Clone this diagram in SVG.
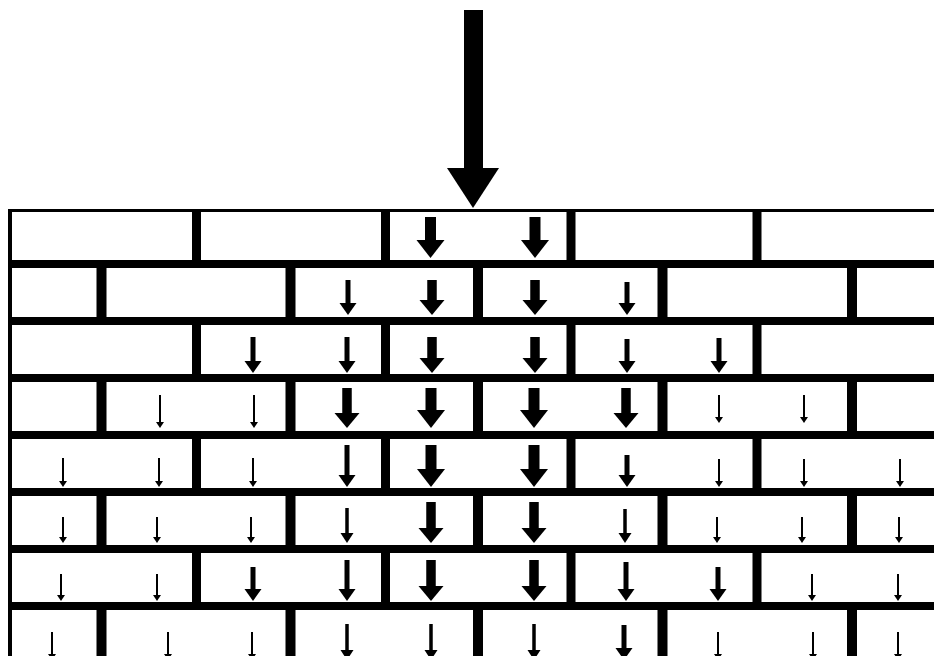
<svg xmlns="http://www.w3.org/2000/svg" width="934" height="656" viewBox="0 0 934 656">
<style>
.mortar rect{fill:#000}
.ar line{fill:none;stroke:#000}
.xl{stroke-width:11;marker-end:url(#hXL)}
.l{stroke-width:9.5;marker-end:url(#hL)}
.m{stroke-width:5;marker-end:url(#hM)}
.s{stroke-width:3.5;marker-end:url(#hS)}
.xs{stroke-width:2;marker-end:url(#hXS)}
</style>
<defs>
<marker id="hXL" markerUnits="userSpaceOnUse" markerWidth="28" markerHeight="18" refX="14" refY="1" orient="0" overflow="visible"><path d="M0,0H28L14,18Z"/></marker>
<marker id="hL" markerUnits="userSpaceOnUse" markerWidth="25" markerHeight="15" refX="12.5" refY="1" orient="0" overflow="visible"><path d="M0,0H25L12.5,15Z"/></marker>
<marker id="hM" markerUnits="userSpaceOnUse" markerWidth="17" markerHeight="12" refX="8.5" refY="1" orient="0" overflow="visible"><path d="M0,0H17L8.5,12Z"/></marker>
<marker id="hS" markerUnits="userSpaceOnUse" markerWidth="13" markerHeight="10" refX="6.5" refY="1" orient="0" overflow="visible"><path d="M0,0H13L6.5,10Z"/></marker>
<marker id="hXS" markerUnits="userSpaceOnUse" markerWidth="8" markerHeight="6" refX="4" refY="1" orient="0" overflow="visible"><path d="M0,0H8L4,6Z"/></marker>
</defs>
<rect width="934" height="656" fill="#fff"/>
<g id="load">
<rect x="464" y="10" width="19" height="160" fill="#000"/>
<polygon points="447,168 499,168 473,208" fill="#000"/>
</g>
<g id="wall" class="mortar">
<rect x="8" y="209" width="926" height="3"/>
<rect x="8" y="209" width="4" height="447"/>
<rect x="8" y="260" width="926" height="8"/>
<rect x="8" y="317" width="926" height="8"/>
<rect x="8" y="374" width="926" height="8"/>
<rect x="8" y="431" width="926" height="8"/>
<rect x="8" y="488" width="926" height="8"/>
<rect x="8" y="545" width="926" height="8"/>
<rect x="8" y="602" width="926" height="8"/>
<rect x="192" y="209" width="9" height="52"/><rect x="381" y="209" width="9" height="52"/><rect x="566.5" y="209" width="9" height="52"/><rect x="752.5" y="209" width="9" height="52"/>
<rect x="192" y="324" width="9" height="51"/><rect x="381" y="324" width="9" height="51"/><rect x="566.5" y="324" width="9" height="51"/><rect x="752.5" y="324" width="9" height="51"/>
<rect x="192" y="438" width="9" height="51"/><rect x="381" y="438" width="9" height="51"/><rect x="566.5" y="438" width="9" height="51"/><rect x="752.5" y="438" width="9" height="51"/>
<rect x="192" y="552" width="9" height="51"/><rect x="381" y="552" width="9" height="51"/><rect x="566.5" y="552" width="9" height="51"/><rect x="752.5" y="552" width="9" height="51"/>
<rect x="96.5" y="267" width="10" height="51"/><rect x="285.5" y="267" width="10" height="51"/><rect x="473" y="267" width="10" height="51"/><rect x="657.5" y="267" width="10" height="51"/><rect x="847" y="267" width="10" height="51"/>
<rect x="96.5" y="381" width="10" height="51"/><rect x="285.5" y="381" width="10" height="51"/><rect x="473" y="381" width="10" height="51"/><rect x="657.5" y="381" width="10" height="51"/><rect x="847" y="381" width="10" height="51"/>
<rect x="96.5" y="495" width="10" height="51"/><rect x="285.5" y="495" width="10" height="51"/><rect x="473" y="495" width="10" height="51"/><rect x="657.5" y="495" width="10" height="51"/><rect x="847" y="495" width="10" height="51"/>
<rect x="96.5" y="609" width="10" height="47"/><rect x="285.5" y="609" width="10" height="47"/><rect x="473" y="609" width="10" height="47"/><rect x="657.5" y="609" width="10" height="47"/><rect x="847" y="609" width="10" height="47"/>
</g>
<g id="arrows" class="ar">
<line class="xl" x1="430.5" y1="217" x2="430.5" y2="241"/>
<line class="xl" x1="535" y1="217" x2="535" y2="241"/>
<line class="m" x1="348" y1="280" x2="348" y2="304"/>
<line class="l" x1="432" y1="280" x2="432" y2="301"/>
<line class="l" x1="535" y1="280" x2="535" y2="301"/>
<line class="m" x1="627" y1="282" x2="627" y2="304"/>
<line class="m" x1="253" y1="337" x2="253" y2="362"/>
<line class="m" x1="347" y1="337" x2="347" y2="362"/>
<line class="l" x1="432" y1="337" x2="432" y2="359"/>
<line class="l" x1="535" y1="337" x2="535" y2="359"/>
<line class="m" x1="627" y1="339" x2="627" y2="362"/>
<line class="m" x1="719" y1="338" x2="719" y2="362"/>
<line class="xs" x1="160" y1="395" x2="160" y2="423"/>
<line class="xs" x1="254" y1="395" x2="254" y2="423"/>
<line class="l" x1="347" y1="388" x2="347" y2="414"/>
<line class="xl" x1="431" y1="388" x2="431" y2="411"/>
<line class="xl" x1="534" y1="388" x2="534" y2="411"/>
<line class="l" x1="626" y1="388" x2="626" y2="414"/>
<line class="xs" x1="719" y1="395" x2="719" y2="418"/>
<line class="xs" x1="804" y1="395" x2="804" y2="418"/>
<line class="xs" x1="63" y1="458" x2="63" y2="482"/>
<line class="xs" x1="159" y1="458" x2="159" y2="482"/>
<line class="xs" x1="253" y1="458" x2="253" y2="482"/>
<line class="m" x1="347" y1="445" x2="347" y2="476"/>
<line class="xl" x1="431" y1="445" x2="431" y2="470"/>
<line class="xl" x1="534" y1="445" x2="534" y2="470"/>
<line class="m" x1="627" y1="455" x2="627" y2="476"/>
<line class="xs" x1="719" y1="459" x2="719" y2="482"/>
<line class="xs" x1="804" y1="459" x2="804" y2="482"/>
<line class="xs" x1="900" y1="459" x2="900" y2="482"/>
<line class="xs" x1="63" y1="517" x2="63" y2="538"/>
<line class="xs" x1="157" y1="517" x2="157" y2="538"/>
<line class="xs" x1="251" y1="517" x2="251" y2="538"/>
<line class="s" x1="347" y1="508" x2="347" y2="534"/>
<line class="l" x1="431" y1="502" x2="431" y2="529"/>
<line class="l" x1="534" y1="502" x2="534" y2="529"/>
<line class="s" x1="625" y1="509" x2="625" y2="534"/>
<line class="xs" x1="717" y1="517" x2="717" y2="538"/>
<line class="xs" x1="802" y1="517" x2="802" y2="538"/>
<line class="xs" x1="899" y1="517" x2="899" y2="538"/>
<line class="xs" x1="61" y1="574" x2="61" y2="596"/>
<line class="xs" x1="157" y1="574" x2="157" y2="596"/>
<line class="m" x1="253" y1="567" x2="253" y2="590"/>
<line class="m" x1="347" y1="560" x2="347" y2="590"/>
<line class="l" x1="431" y1="560" x2="431" y2="587"/>
<line class="l" x1="534" y1="560" x2="534" y2="587"/>
<line class="m" x1="626" y1="562" x2="626" y2="590"/>
<line class="m" x1="718" y1="567" x2="718" y2="590"/>
<line class="xs" x1="812" y1="574" x2="812" y2="596"/>
<line class="xs" x1="898" y1="574" x2="898" y2="596"/>
<line class="xs" x1="52" y1="632" x2="52" y2="655"/>
<line class="xs" x1="168" y1="632" x2="168" y2="655"/>
<line class="xs" x1="252" y1="632" x2="252" y2="655"/>
<line class="s" x1="347" y1="624" x2="347" y2="651"/>
<line class="s" x1="431" y1="624" x2="431" y2="651"/>
<line class="s" x1="534" y1="624" x2="534" y2="651"/>
<line class="m" x1="624" y1="625" x2="624" y2="649"/>
<line class="xs" x1="718" y1="632" x2="718" y2="655"/>
<line class="xs" x1="813" y1="632" x2="813" y2="655"/>
<line class="xs" x1="898" y1="632" x2="898" y2="655"/>
</g>
</svg>
